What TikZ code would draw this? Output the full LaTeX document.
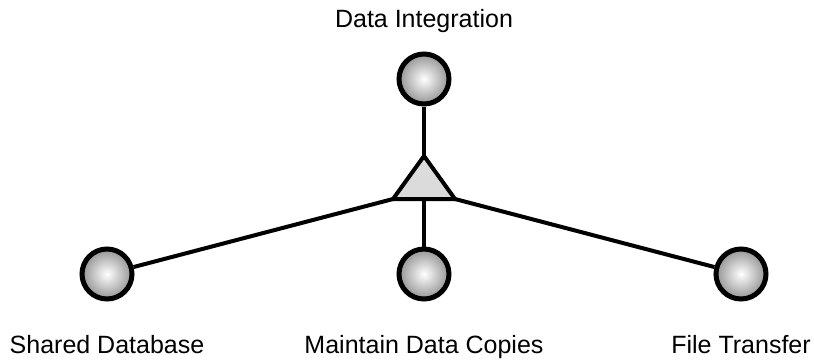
\documentclass[tikz,border=0pt]{standalone}
\usepackage{fontspec}
\setmainfont{Liberation Sans}
\usepackage{xcolor}

\begin{document}
\begin{tikzpicture}[x=1pt, y=-1pt,
    ball/.style={circle, draw=black, line width=5pt, minimum size=50pt, inner sep=0pt,
      shading=radial, inner color=white, outer color=black!42},
    link/.style={line width=4pt},
    lbl/.style={font=\fontsize{25}{30}\selectfont, inner sep=0pt}]
  \useasboundingbox (0,0) rectangle (814,359);
  % Palle
  \node[ball] (integ) at (424,79) {};
  \node[ball] (shared) at (107,274) {};
  \node[ball] (copies) at (424,274) {};
  \node[ball] (transfer) at (741,274) {};
  % Triangolo
  \coordinate (apex) at (424,156);
  \coordinate (lc) at (393,199);
  \coordinate (rc) at (455,199);
  \coordinate (bm) at (424,199);
  % Collegamenti
  \draw[link] (integ) -- (apex);
  \draw[link] (lc) -- (shared);
  \draw[link] (bm) -- (copies);
  \draw[link] (rc) -- (transfer);
  \draw[link, line join=miter, fill=black!14] (apex) -- (lc) -- (rc) -- cycle;
  % Etichette
  \node[lbl, anchor=base] (tinteg) at (424,27) {Data Integration};
  \node[lbl, anchor=base] (tshared) at (107,353) {Shared Database};
  \node[lbl, anchor=base] (tcopies) at (424,353) {Maintain Data Copies};
  \node[lbl, anchor=base] (ttransfer) at (741,353) {File Transfer};
\end{tikzpicture}
\end{document}
